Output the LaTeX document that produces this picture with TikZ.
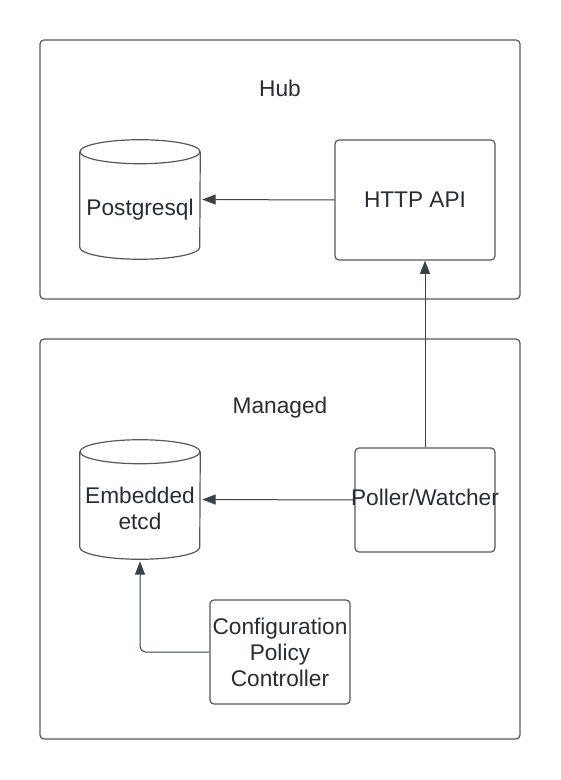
\documentclass[tikz,border=0pt]{standalone}
\usepackage{fontspec}
\setmainfont{Liberation Sans}
\usetikzlibrary{arrows.meta}
\definecolor{lineclr}{RGB}{85,88,94}
\definecolor{arrclr}{RGB}{58,65,74}
\definecolor{txtclr}{RGB}{40,44,51}
\tikzset{
  px/.style={x=0.75pt,y=-0.75pt},
  group/.style={draw=lineclr,line width=0.9pt,rounded corners=3pt},
  box/.style={draw=lineclr,line width=0.9pt,rounded corners=3pt,inner sep=0pt,align=center,text=txtclr,font=\fontsize{17}{19.5}\selectfont},
  dbshape/.style={inner sep=0pt,minimum width=90pt,minimum height=89.25pt},
  lbl/.style={text=txtclr,align=center,font=\fontsize{17}{19.5}\selectfont},
  conn/.style={draw=arrclr,line width=0.75pt,-{Triangle[length=10pt,width=7.5pt]}}
}
\newcommand{\dbcyl}[1]{%
  \draw[draw=lineclr,line width=0.9pt]
    ([yshift=-9pt]#1.north west) -- ([yshift=9pt]#1.south west)
    arc[start angle=180,end angle=360,x radius=45pt,y radius=9pt]
    -- ([yshift=-9pt]#1.north east);
  \draw[draw=lineclr,line width=0.9pt] ([yshift=-9pt]#1.north) ellipse[x radius=45pt,y radius=9pt];
}
\begin{document}
\begin{tikzpicture}[px]
\useasboundingbox (0,0) rectangle (560,780);
\fill[white] (0,0) rectangle (560,780);
% groups
\draw[group] (40,40) rectangle (520,299);
\node[lbl] (hub) at (280,88) {Hub};
\draw[group] (40,339) rectangle (520,739);
\node[lbl] (managed) at (280,408) {Managed};
% hub contents
\node[dbshape] (pg) at (140,199.5) {};
\dbcyl{pg}
\node[lbl] (pgt) at ([yshift=-7.5pt]pg.center) {Postgresql};
\node[box,minimum width=120pt,minimum height=90pt] (api) at (415,200) {HTTP API};
% managed contents
\node[dbshape] (etcd) at (140,499.5) {};
\dbcyl{etcd}
\node[lbl] (etcdt) at ([yshift=-7pt]etcd.center) {Embedded\\etcd};
\node[box,minimum width=105pt,minimum height=78pt,label={[lbl,yshift=2pt]center:Poller/Watcher}] (poll) at (425,500) {};
\node[box,minimum width=105pt,minimum height=78pt] (cfg) at (280,652) {Configuration\\Policy\\Controller};
% connectors
\draw[conn] (api.west) -- ([xshift=1.5pt]pg.east);
\draw[conn] (poll.west) -- ([xshift=1.5pt]etcd.east);
\draw[conn] (poll.north) -- (api.south -| poll.north);
\draw[conn,rounded corners=4pt] (cfg.west) -| ([yshift=-1.5pt]etcd.south);
\end{tikzpicture}
\end{document}
